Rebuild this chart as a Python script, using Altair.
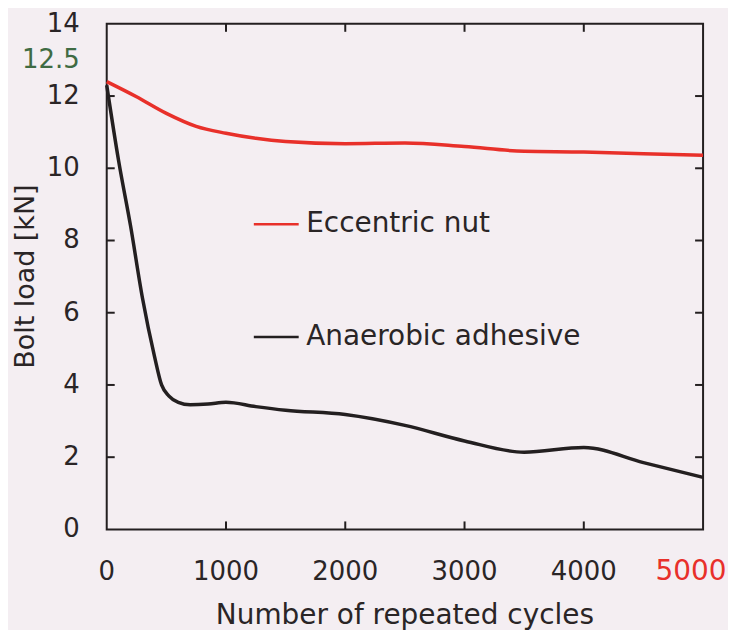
import altair as alt
import pandas as pd

# --- data ---
series = ["Eccentric nut", "Anaerobic adhesive"]
colors = ["#e8302a", "#231f20"]

x_red = [0, 250, 500, 750, 1000, 1250, 1500, 2000, 2500, 3000, 3500, 4000, 4500, 5000]
y_red = [12.4, 11.98, 11.52, 11.16, 10.97, 10.83, 10.74, 10.68, 10.7, 10.6, 10.47, 10.45, 10.4, 10.36]

x_blk = [0, 100, 200, 300, 400, 460, 520, 600, 700, 850, 1000, 1250, 1500, 2000, 2500,
         3000, 3500, 4000, 4500, 5000]
y_blk = [12.3, 10.2, 8.4, 6.4, 4.8, 4.0, 3.7, 3.52, 3.45, 3.47, 3.52, 3.4, 3.3, 3.18, 2.88,
         2.45, 2.14, 2.27, 1.85, 1.44]

x_ticks = [0, 1000, 2000, 3000, 4000, 5000]
y_ticks = [0, 2, 4, 6, 8, 10, 12, 14]
note_pos = 13
note_label = "12.5"
x_title = "Number of repeated cycles"
y_title = "Bolt load [kN]"

df = pd.concat([
    pd.DataFrame({"cycles": x_red, "load": y_red, "series": series[0]}),
    pd.DataFrame({"cycles": x_blk, "load": y_blk, "series": series[1]}),
])
df_xt = pd.DataFrame({"tx": x_ticks[1:-1]})
df_yt = pd.DataFrame({"ty": y_ticks[1:-1]})
df_xl = pd.DataFrame({"lx": x_ticks[:-1], "lab": [str(v) for v in x_ticks[:-1]]})
df_xl_last = pd.DataFrame({"lx": x_ticks[-1:], "lab": [str(x_ticks[-1])]})
df_yl = pd.DataFrame({"ly": y_ticks + [note_pos],
                      "lab": [str(v) for v in y_ticks] + [note_label]})
df_xtitle = pd.DataFrame({"t": [x_title]})
df_ytitle = pd.DataFrame({"t": [y_title]})

FONT = "DejaVu Sans"
TXT = "#2a2526"
TICK = "#231f20"
TLEN = 8
xs = alt.Scale(domain=[0, 5000], nice=False)
ys = alt.Scale(domain=[0, 14], nice=False)

lines = alt.Chart(df).mark_line(strokeWidth=3.5, interpolate="monotone").encode(
    x=alt.X("cycles:Q", scale=xs, axis=None),
    y=alt.Y("load:Q", scale=ys, axis=None),
    color=alt.Color("series:N", scale=alt.Scale(domain=series, range=colors), legend=alt.Legend(
        orient="none", legendX=146, legendY=177, title=None, symbolType="stroke",
        symbolSize=2025, symbolStrokeWidth=2.5, labelFontSize=28, labelFont=FONT,
        labelColor=TXT, rowPadding=75, labelOffset=6, labelLimit=0,
    )),
)

# tick labels
y_labels = alt.Chart(df_yl).mark_text(
    align="right", baseline="middle", fontSize=26, font=FONT, dx=-27).encode(
    y=alt.Y("ly:Q", scale=ys, axis=None), x=alt.value(0), text="lab:N",
    color=alt.condition(f"datum.ly == {note_pos}", alt.value("#3f6b43"), alt.value(TXT)))
x_labels = alt.Chart(df_xl).mark_text(
    align="center", baseline="top", fontSize=26, font=FONT, dy=30, color=TXT).encode(
    x=alt.X("lx:Q", scale=xs, axis=None), y=alt.value({"expr": "height"}), text="lab:N")
x_label_last = alt.Chart(df_xl_last).mark_text(
    align="center", baseline="top", fontSize=28, font=FONT, dy=29, dx=-12,
    color="#e8302a").encode(
    x=alt.X("lx:Q", scale=xs, axis=None), y=alt.value({"expr": "height"}), text="lab:N")

# axis titles
x_tt = alt.Chart(df_xtitle).mark_text(
    align="center", baseline="alphabetic", fontSize=28, font=FONT, dy=95, color=TXT).encode(
    x=alt.value({"expr": "width / 2"}), y=alt.value({"expr": "height"}), text="t:N")
y_tt = alt.Chart(df_ytitle).mark_text(
    align="center", baseline="middle", fontSize=27, font=FONT, angle=270, color=TXT).encode(
    x=alt.value(-81), y=alt.value({"expr": "height / 2"}), text="t:N")

# inward tick marks on all four sides (drawn last, on top)
tick_mark = dict(color=TICK, strokeWidth=2, opacity=1)
left_t = alt.Chart(df_yt).mark_rule(**tick_mark).encode(
    y=alt.Y("ty:Q", scale=ys, axis=None), x=alt.value(0), x2=alt.value(TLEN))
right_t = alt.Chart(df_yt).mark_rule(**tick_mark).encode(
    y=alt.Y("ty:Q", scale=ys, axis=None), x=alt.value({"expr": "width"}),
    x2=alt.value({"expr": f"width - {TLEN}"}))
bottom_t = alt.Chart(df_xt).mark_rule(**tick_mark).encode(
    x=alt.X("tx:Q", scale=xs, axis=None), y=alt.value({"expr": "height"}),
    y2=alt.value({"expr": f"height - {TLEN}"}))
top_t = alt.Chart(df_xt).mark_rule(**tick_mark).encode(
    x=alt.X("tx:Q", scale=xs, axis=None), y=alt.value(0), y2=alt.value(TLEN))

chart = alt.layer(lines, y_labels, x_labels, x_label_last, x_tt, y_tt,
                  left_t, right_t, bottom_t, top_t).properties(
    width=598, height=507,
    autosize=alt.AutoSizeParams(type="none"),
    padding={"left": 99, "top": 15, "right": 25, "bottom": 100},
    background="#f4eef2",
).configure_view(stroke="#231f20", strokeWidth=2)

chart.save("out.html", embed_options={"renderer": "svg", "actions": False})
